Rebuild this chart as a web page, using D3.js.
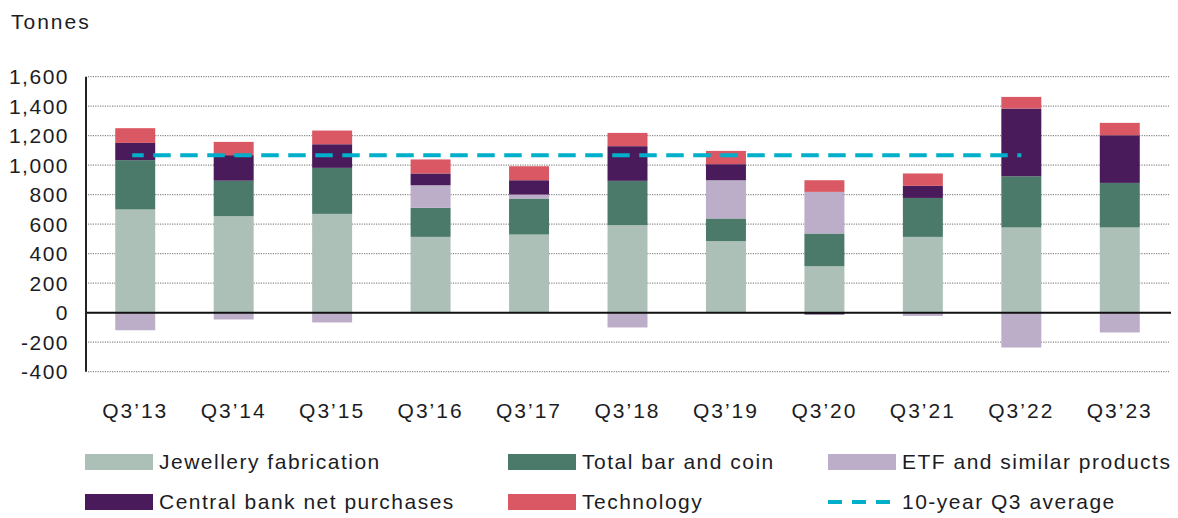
<!DOCTYPE html>
<html>
<head>
<meta charset="utf-8">
<script src="https://cdn.jsdelivr.net/npm/d3@7"></script>
<style>
  body { margin: 0; background: #fff; }
  svg { display: block; font-family: 'Liberation Sans', Arial, sans-serif; }
  .tick-label, .axis-title, .legend-label { font-size: 21px; letter-spacing: 1.5px; fill: #1c1c24; }
  .x-label { letter-spacing: 2px; }
</style>
</head>
<body>
<svg width="1178" height="518"></svg>
<script>
'use strict';

// quarters on the x axis
var quarters = ['Q3’13', 'Q3’14', 'Q3’15', 'Q3’16', 'Q3’17', 'Q3’18', 'Q3’19', 'Q3’20', 'Q3’21', 'Q3’22', 'Q3’23'];

// tonnes per component
var jewellery   = [700, 654, 670, 514, 530, 593, 485, 315, 514, 578, 578];
var barAndCoin  = [334, 241, 312, 197, 244, 301, 154, 222, 264, 347, 302];
var etf         = [-119, -46, -66, 153, 27, -100, 259, 282, -22, -236, -134];
var centralBank = [117, 173, 160, 80, 97, 235, 109, -12, 82, 459, 323];
var technology  = [100, 90, 93, 95, 95, 90, 90, 79, 84, 79, 84];

// 10-year Q3 average, drawn from Q3'13 to Q3'22
var average = 1068;
var averageFrom = 'Q3’13';
var averageTo = 'Q3’22';

var yTicks = [-400, -200, 0, 200, 400, 600, 800, 1000, 1200, 1400, 1600];

var seriesNames = ['Jewellery fabrication', 'Total bar and coin', 'ETF and similar products', 'Central bank net purchases', 'Technology'];
var seriesColors = ['#adc0b8', '#4b7a6b', '#bcadc8', '#4a1b5b', '#d95864'];
var averageName = '10-year Q3 average';
var averageColor = '#00afc9';

var svg = d3.select('svg');

var margin = {left: 86, right: 1169, top: 76.7, bottom: 371.7};

var x = d3.scaleBand()
  .domain(quarters)
  .range([margin.left, margin.right])
  .paddingInner(0.594)
  .paddingOuter(0.297);

var y = d3.scaleLinear()
  .domain([-400, 1600])
  .range([margin.bottom, margin.top]);

// build table rows for the stack
var keys = ['jewellery', 'barAndCoin', 'etf', 'centralBank', 'technology'];
var rows = quarters.map(function(q, i) {
  return {
    quarter: q,
    jewellery: jewellery[i],
    barAndCoin: barAndCoin[i],
    etf: etf[i],
    centralBank: centralBank[i],
    technology: technology[i]
  };
});

var stacked = d3.stack()
  .keys(keys)
  .offset(d3.stackOffsetDiverging)(rows);

// plain hyphen for negatives, like the original
var formatTick = function(d) {
  return d3.format(',')(d).replace('−', '-');
};

// dotted gridlines
svg.append('g')
  .selectAll('line')
  .data(yTicks.filter(function(d) { return d !== 0; }))
  .enter()
  .append('line')
  .attr('x1', margin.left + 2)
  .attr('x2', margin.right)
  .attr('y1', function(d) { return y(d); })
  .attr('y2', function(d) { return y(d); })
  .attr('stroke', '#8a8a8a')
  .attr('stroke-width', 1.3)
  .attr('stroke-dasharray', '1.2,1.2');

// y tick labels
svg.append('g')
  .selectAll('text')
  .data(yTicks)
  .enter()
  .append('text')
  .attr('class', 'tick-label')
  .attr('x', 69)
  .attr('y', function(d) { return y(d); })
  .attr('dy', '0.36em')
  .attr('text-anchor', 'end')
  .text(formatTick);

svg.append('text')
  .attr('class', 'axis-title')
  .attr('x', 11)
  .attr('y', 29)
  .style('letter-spacing', '2px')
  .text('Tonnes');

// stacked bars
svg.append('g')
  .selectAll('g')
  .data(stacked)
  .enter()
  .append('g')
  .attr('fill', function(d, i) { return seriesColors[i]; })
  .selectAll('rect')
  .data(function(d) { return d; })
  .enter()
  .append('rect')
  .attr('x', function(d) { return x(d.data.quarter); })
  .attr('width', x.bandwidth())
  .attr('y', function(d) { return y(Math.max(d[0], d[1])); })
  .attr('height', function(d) { return Math.abs(y(d[0]) - y(d[1])); });

// zero line and y axis line
svg.append('line')
  .attr('x1', margin.left)
  .attr('x2', margin.right + 2)
  .attr('y1', y(0))
  .attr('y2', y(0))
  .attr('stroke', '#111')
  .attr('stroke-width', 2);

svg.append('line')
  .attr('x1', margin.left)
  .attr('x2', margin.left)
  .attr('y1', y(1600))
  .attr('y2', y(-400))
  .attr('stroke', '#222')
  .attr('stroke-width', 2);

// average dashed line
svg.append('line')
  .attr('x1', x(averageFrom) + x.bandwidth() / 2 - 3)
  .attr('x2', x(averageTo) + x.bandwidth() / 2)
  .attr('y1', y(average))
  .attr('y2', y(average))
  .attr('stroke', averageColor)
  .attr('stroke-width', 4)
  .attr('stroke-dasharray', '17.5,9.5')
  .attr('stroke-dashoffset', 6);

// x labels
svg.append('g')
  .selectAll('text')
  .data(quarters)
  .enter()
  .append('text')
  .attr('class', 'tick-label x-label')
  .attr('x', function(d) { return x(d) + x.bandwidth() / 2; })
  .attr('y', 418)
  .attr('text-anchor', 'middle')
  .text(function(d) { return d; });

// legend: three columns, two rows
var legendCols = [85, 508, 828];
var legendRows = [454, 494];
var legendItems = seriesNames.map(function(name, i) {
  return {name: name, color: seriesColors[i], kind: 'box'};
});
legendItems.push({name: averageName, color: averageColor, kind: 'dash'});

var legend = svg.append('g')
  .selectAll('g')
  .data(legendItems)
  .enter()
  .append('g')
  .attr('transform', function(d, i) {
    return 'translate(' + legendCols[i % 3] + ',' + legendRows[Math.floor(i / 3)] + ')';
  });

legend.filter(function(d) { return d.kind === 'box'; })
  .append('rect')
  .attr('width', 68)
  .attr('height', 16)
  .attr('fill', function(d) { return d.color; });

legend.filter(function(d) { return d.kind === 'dash'; })
  .append('line')
  .attr('x1', 0)
  .attr('x2', 68)
  .attr('y1', 8)
  .attr('y2', 8)
  .attr('stroke', function(d) { return d.color; })
  .attr('stroke-width', 4)
  .attr('stroke-dasharray', '14,10');

legend.append('text')
  .attr('class', 'legend-label')
  .attr('x', 74)
  .attr('y', 15)
  .text(function(d) { return d.name; });
</script>
</body>
</html>
